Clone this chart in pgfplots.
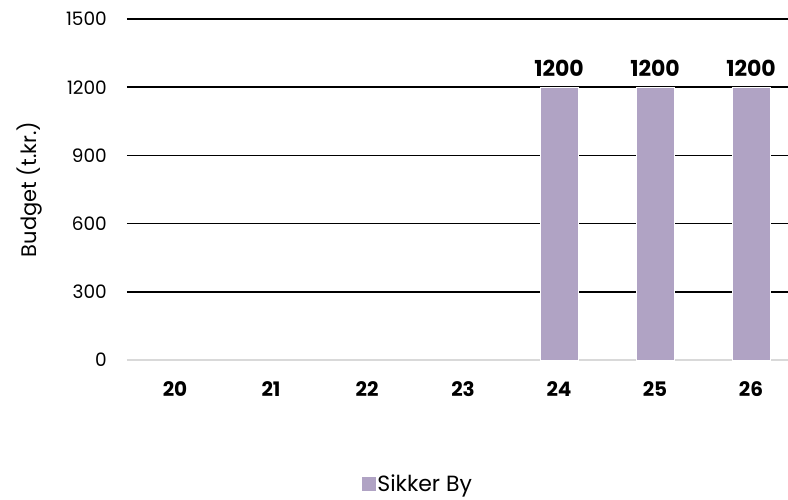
\documentclass[border=0pt]{standalone}
\usepackage{fontspec}
\setmainfont{Poppins}
\usepackage{pgfplots}
\pgfplotsset{compat=1.18}
\definecolor{barc}{HTML}{B0A3C4}
\definecolor{zgray}{HTML}{D9D9D9}
\begin{document}
\begin{tikzpicture}[x=1pt,y=1pt]
\useasboundingbox (0,0) rectangle (788,500);
\begin{axis}[
  at={(127pt,140pt)}, anchor=south west,
  scale only axis, width=661pt, height=341pt,
  xmin=-0.5, xmax=6.385, ymin=0, ymax=1500,
  axis line style={draw=none},
  clip=false,
  /pgf/number format/assume math mode=true,
  /pgf/number format/1000 sep={},
  xtick={0,...,6}, xticklabels={20,21,22,23,24,25,26},
  xticklabel style={font=\fontsize{20}{24}\selectfont\bfseries, anchor=center, yshift=-29pt},
  ytick={300,600,...,1500},
  extra y ticks={0},
  extra y tick style={grid style={zgray, line width=1.2pt}},
  yticklabel style={font=\fontsize{18.5}{22}\selectfont, anchor=east, inner sep=0pt, xshift=-20pt},
  ymajorgrids, grid style={black, line width=1.6pt},
  major tick length=0pt,
  ylabel={Budget (t.kr.)},
  every axis y label/.style={at={(axis description cs:-0.147,0.5)}, anchor=center, rotate=90, font=\fontsize{21}{25}\selectfont},
  ybar, bar width=38pt,
  nodes near coords,
  every node near coord/.append style={font=\fontsize{22}{26}\selectfont\bfseries, yshift=7pt},
  legend style={at={(axis description cs:0.44,-0.362)}, anchor=center, draw=none, font=\fontsize{22}{26}\selectfont, legend cell align=left, inner sep=0pt},
  legend image code/.code={\fill[barc] (0pt,-6.5pt) rectangle (13pt,6.5pt);},
]
\addplot[fill=barc, draw=white, line width=0.6pt] coordinates {(4,1200) (5,1200) (6,1200)};
\addlegendentry{Sikker By}
\end{axis}
\end{tikzpicture}
\end{document}
